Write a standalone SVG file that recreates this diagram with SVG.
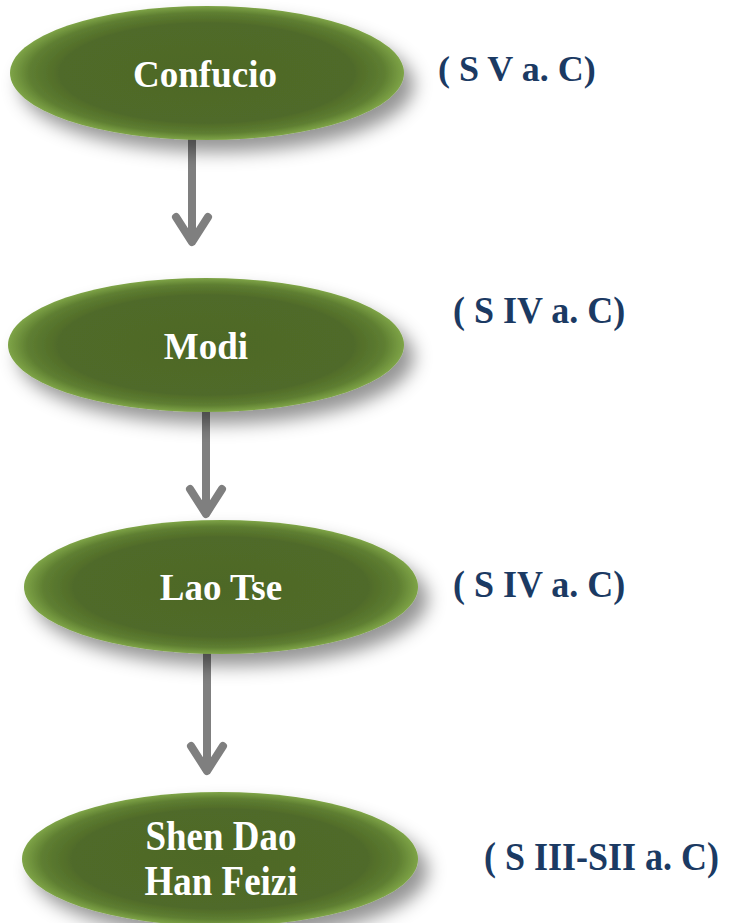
<svg xmlns="http://www.w3.org/2000/svg" width="730" height="923" viewBox="0 0 730 923">
<defs>
<radialGradient id="g" cx="0.5" cy="0.5" r="0.5">
<stop offset="0" stop-color="#4e6827"/>
<stop offset="0.75" stop-color="#506b29"/>
<stop offset="0.9" stop-color="#5e7e31"/>
<stop offset="1" stop-color="#7ea447"/>
</radialGradient>
<filter id="sh" x="-20%" y="-30%" width="150%" height="180%">
<feDropShadow dx="10" dy="12" stdDeviation="9" flood-color="#000" flood-opacity="0.42"/>
</filter>
</defs>
<style>
.node{fill:url(#g);filter:url(#sh)}
.nt{font-family:"Liberation Serif","Times New Roman",serif;font-weight:bold;font-size:37px;fill:#fff;text-anchor:middle}
.lb{font-family:"Liberation Serif","Times New Roman",serif;font-weight:bold;font-size:36px;fill:#1b3a63}
.cn{stroke:#7f7f7f;stroke-width:8;fill:none;stroke-linecap:round;stroke-linejoin:round}
</style>
<rect width="730" height="923" fill="#fff"/>
<g id="connectors">
<path class="cn" d="M192 138V240M176 217L192 242L208 217"/>
<path class="cn" d="M206 410V512M190 489L206 514L222 489"/>
<path class="cn" d="M207 652V769M191 746L207 771L223 746"/>
</g>
<g id="n1"><ellipse class="node" cx="207" cy="73" rx="197" ry="67"/><text class="nt" x="205" y="87">Confucio</text></g>
<g id="n2"><ellipse class="node" cx="206" cy="345" rx="198" ry="67"/><text class="nt" x="206" y="359">Modi</text></g>
<g id="n3"><ellipse class="node" cx="221" cy="587" rx="197" ry="67"/><text class="nt" x="221" y="600">Lao Tse</text></g>
<g id="n4"><ellipse class="node" cx="220" cy="859" rx="198" ry="67"/>
<text class="nt" transform="translate(221 850) scale(1 1.12)">Shen Dao</text>
<text class="nt" transform="translate(221 895) scale(1 1.12)">Han Feizi</text></g>
<g id="labels">
<text class="lb" x="438" y="81">( S V a. C)</text>
<text class="lb" transform="translate(453 323) scale(1 1.08)">( S IV a. C)</text>
<text class="lb" transform="translate(453 597) scale(1 1.08)">( S IV a. C)</text>
<text class="lb" transform="translate(484 870) scale(1 1.12)">( S III-SII a. C)</text>
</g>
</svg>
